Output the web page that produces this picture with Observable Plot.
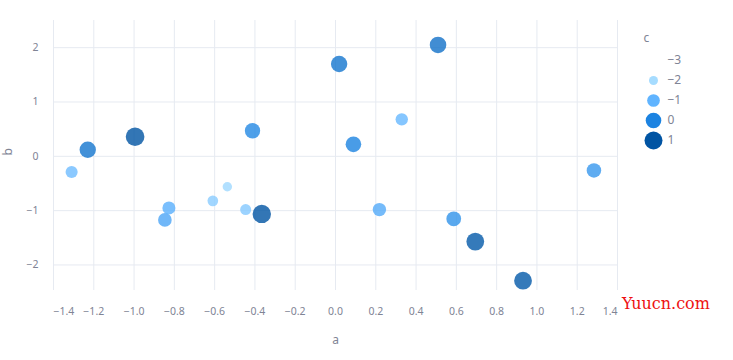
<!DOCTYPE html>
<html>
<head>
<meta charset="utf-8">
<script src="https://cdn.jsdelivr.net/npm/d3@7"></script>
<script src="https://cdn.jsdelivr.net/npm/@observablehq/plot@0.6"></script>
<style>
  html, body { margin: 0; padding: 0; background: #fff; }
  #wrap { position: relative; width: 733px; height: 360px; overflow: hidden; font-family: "Noto Sans", sans-serif; }
  #main { position: absolute; left: 0; top: 0; }
  #legend { position: absolute; left: 620px; top: 0; }
  #wm { position: absolute; left: 622px; top: 294px; color: #ee1111; font-family: "DejaVu Serif", "Liberation Serif", serif; font-size: 16px; }
</style>
</head>
<body>
<div id="wrap">
  <div id="main"></div>
  <div id="legend"></div>
  <div id="wm">Yuucn.com</div>
</div>
<script>
// data
const aVals = [-1.31, -1.23, -0.995, -0.827, -0.847, -0.609, -0.537, -0.446, -0.366, -0.412, 0.018, 0.509, 0.329, 0.089, 1.283, 0.218, 0.587, 0.694, 0.931];
const bVals = [-0.29, 0.12, 0.36, -0.95, -1.17, -0.82, -0.56, -0.98, -1.06, 0.47, 1.70, 2.05, 0.68, 0.22, -0.26, -0.98, -1.15, -1.57, -2.29];
const cVals = [-1.2, 0.3, 1.3, -0.9, -0.7, -1.6, -1.9, -1.5, 1.2, -0.1, 0.3, 0.4, -1.1, 0.0, -0.4, -0.8, -0.3, 0.9, 0.9];
const xTicks = [-1.4, -1.2, -1.0, -0.8, -0.6, -0.4, -0.2, 0.0, 0.2, 0.4, 0.6, 0.8, 1.0, 1.2, 1.4];
const yTicks = [-2, -1, 0, 1, 2];
const legendValues = [-3, -2, -1, 0, 1];
const colorRange = ["#e4f5ff", "#a6dcff", "#60b4ff", "#1c83e1", "#0054a3"];

const data = aVals.map((a, i) => ({a, b: bVals[i], c: cVals[i]}));

const grey = "#808495";
const gridColor = "#e6eaf1";
const rScale = {type: "sqrt", domain: [0, 4], range: [0, 9]};
const colorScale = {type: "linear", domain: legendValues, range: colorRange, interpolate: "rgb", clamp: true};
const sizeOf = d => d + 3;
const fs = 10.5;

const xFirst = xTicks.slice(0, 1);
const xLast = xTicks.slice(-1);
const xMid = xTicks.slice(1, -1);
const xAxisOpts = {tickSize: 0, tickPadding: 17, tickFormat: d3.format(".1f"), fill: grey, fontSize: fs, label: null};

const chart = Plot.plot({
  width: 733,
  height: 360,
  marginLeft: 53,
  marginRight: 116,
  marginTop: 20,
  marginBottom: 70,
  style: {fontFamily: "Noto Sans, sans-serif", fontSize: fs + "px", color: grey, background: "transparent"},
  x: {domain: [-1.4, 1.4]},
  y: {domain: [-2.47, 2.5]},
  r: rScale,
  color: colorScale,
  marks: [
    Plot.gridX(xTicks, {stroke: gridColor, strokeOpacity: 1}),
    Plot.gridY(yTicks, {stroke: gridColor, strokeOpacity: 1}),
    Plot.axisX(xMid, xAxisOpts),
    Plot.axisX(xFirst, {...xAxisOpts, textAnchor: "start"}),
    Plot.axisX(xLast, {...xAxisOpts, textAnchor: "end"}),
    Plot.axisY(yTicks, {tickSize: 0, tickPadding: 15, tickFormat: d3.format("d"), fill: grey, fontSize: fs, label: null}),
    Plot.text(["a"], {frameAnchor: "bottom", dy: 53, fill: grey, fontSize: 12}),
    Plot.text(["b"], {frameAnchor: "left", dx: -45, rotate: -90, fill: grey, fontSize: 12}),
    Plot.dot(data, {x: "a", y: "b", r: d => sizeOf(d.c), fill: "c", fillOpacity: 0.8})
  ]
});
document.getElementById("main").appendChild(chart);

const legend = Plot.plot({
  width: 113,
  height: 160,
  margin: 0,
  style: {fontFamily: "Noto Sans, sans-serif", fontSize: "12px", color: grey, background: "transparent"},
  x: {axis: null},
  y: {type: "point", domain: legendValues, range: [59, 141], padding: 0, axis: null},
  r: rScale,
  color: colorScale,
  marks: [
    Plot.text(["c"], {frameAnchor: "top-left", dx: 23, dy: 33, textAnchor: "start", fill: grey, fontSize: 12}),
    Plot.dot(legendValues, {y: d => d, r: sizeOf, fill: d => d, frameAnchor: "left", dx: 33}),
    Plot.text(legendValues, {y: d => d, text: d3.format("d"), frameAnchor: "left", dx: 47, textAnchor: "start", fill: grey, fontSize: 12})
  ]
});
document.getElementById("legend").appendChild(legend);
</script>
</body>
</html>
